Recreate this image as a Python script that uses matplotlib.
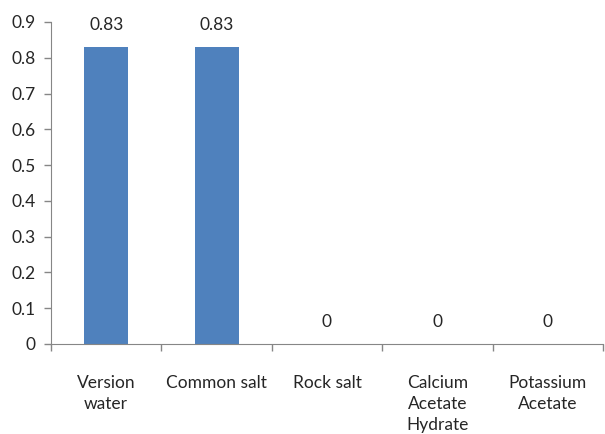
import matplotlib.pyplot as plt
import numpy as np

plt.rcParams['font.family'] = ['Lato', 'DejaVu Sans']

categories = ['Version\nwater', 'Common salt', 'Rock salt',
              'Calcium\nAcetate\nHydrate', 'Potassium\nAcetate']
values = [0.83, 0.83, 0, 0, 0]
value_labels = ['0.83', '0.83', '0', '0', '0']
yticks = [0, 0.1, 0.2, 0.3, 0.4, 0.5, 0.6, 0.7, 0.8, 0.9]

axis_color = '#868686'
bar_color = '#4F81BD'
text_color = '#262626'

fig = plt.figure(figsize=(6.05, 4.34), dpi=100)
ax = fig.add_axes([51 / 605, 1 - 344 / 434, 552 / 605, 322 / 434])

x = np.arange(len(categories))
bars = ax.bar(x, values, width=0.4, color=bar_color)
ax.bar_label(bars, labels=value_labels, padding=10, fontsize=12.5, color=text_color)

ax.set_xlim(-0.5, len(categories) - 0.5)
ax.set_ylim(0, 0.9)
ax.set_yticks(yticks)
ax.set_yticklabels([f'{t:g}' for t in yticks], fontsize=12.5, color=text_color)

# category labels sit between boundary ticks, like Excel
ax.set_xticks(x)
ax.set_xticklabels(categories, fontsize=12.5, color=text_color, linespacing=1.4)
ax.tick_params(axis='x', length=0, pad=22)
ax.set_xticks(np.arange(len(categories) + 1) - 0.5, minor=True)
ax.tick_params(axis='x', which='minor', length=5, color=axis_color, width=1)
ax.tick_params(axis='y', length=5, color=axis_color, width=1, pad=6)

for side in ['top', 'right']:
    ax.spines[side].set_visible(False)
for side in ['left', 'bottom']:
    ax.spines[side].set_color(axis_color)

fig.savefig('out.png', dpi=100)
